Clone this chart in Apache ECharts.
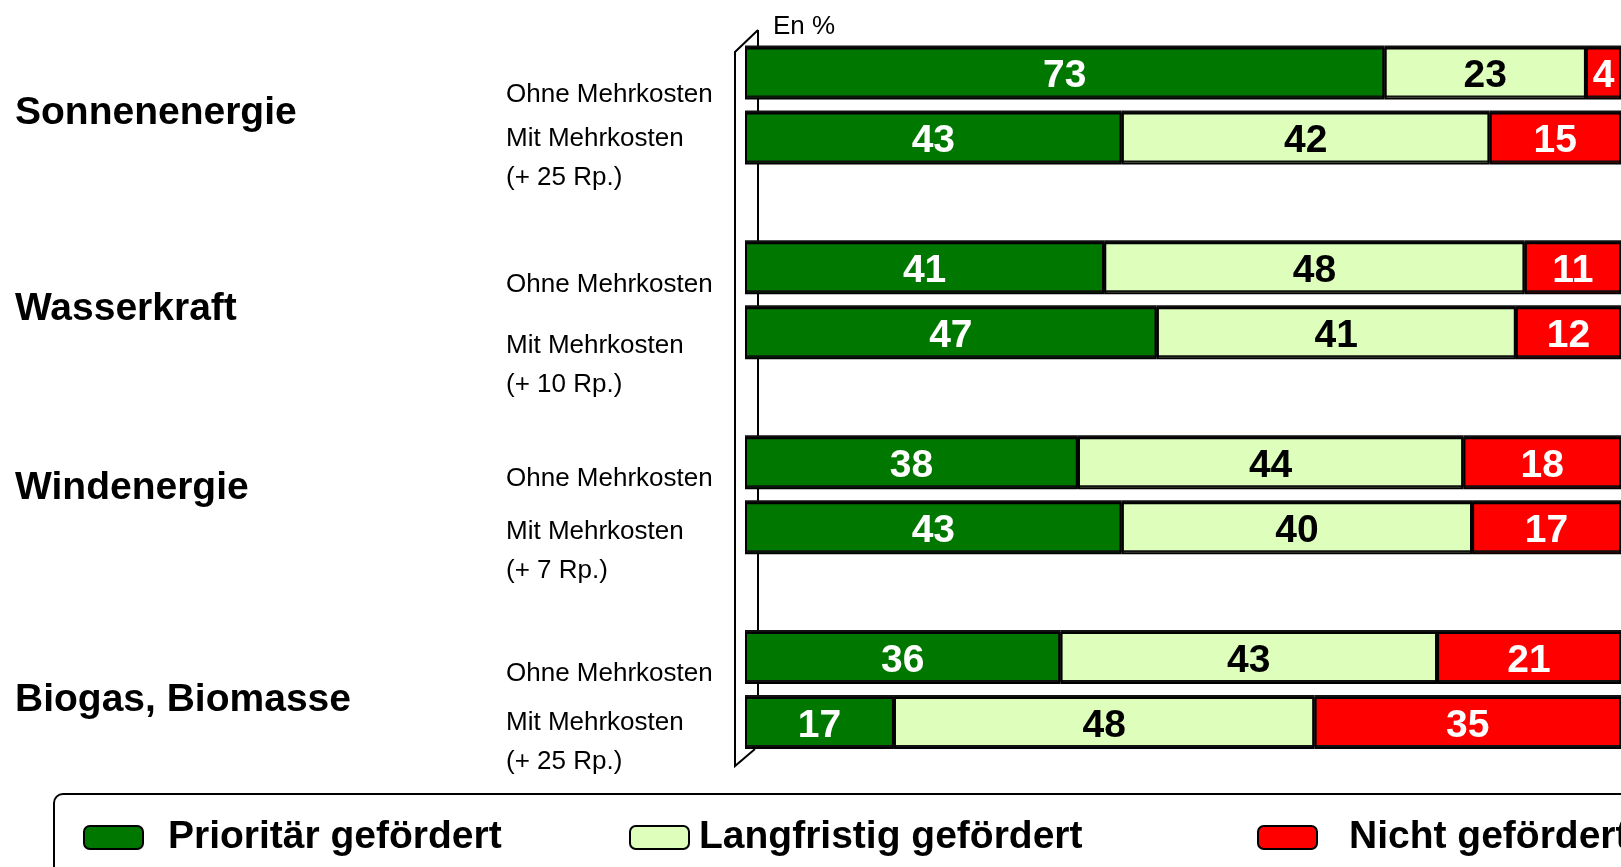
<!DOCTYPE html>
<html><head><meta charset="utf-8">
<script src="https://cdn.jsdelivr.net/npm/echarts@6/dist/echarts.min.js"></script>
<style>html,body{margin:0;padding:0;background:#fff}#c{width:1621px;height:867px}</style>
</head><body><div id="c"></div>
<script>
// ---- data ----
const rowKeys = ['r0','r1','r2','r3','r4','r5','r6','r7','r8','r9','r10'];
const rowLabels = ['Ohne Mehrkosten','Mit Mehrkosten\n(+ 25 Rp.)','',
                   'Ohne Mehrkosten','Mit Mehrkosten\n(+ 10 Rp.)','',
                   'Ohne Mehrkosten','Mit Mehrkosten\n(+ 7 Rp.)','',
                   'Ohne Mehrkosten','Mit Mehrkosten\n(+ 25 Rp.)'];
const groupLabels = ['Sonnenenergie','','','Wasserkraft','','','Windenergie','','','Biogas, Biomasse',''];
const seriesNames = ['Prioritär gefördert','Langfristig gefördert','Nicht gefördert'];
const prioritaer = [73, 43, '-', 41, 47, '-', 38, 43, '-', 36, 17];
const langfristig = [23, 42, '-', 48, 41, '-', 44, 40, '-', 43, 48];
const nicht = [4, 15, '-', 11, 12, '-', 18, 17, '-', 21, 35];
const unitLabel = 'En %';

// ---- styling ----
const NF = "'Liberation Sans', Arial, sans-serif";
const colors = ['#007800', '#DDFFBB', '#FF0000'];
const labelColors = ['#fff', '#000', '#fff'];
// vertical offset (px) of the first text line below the bar centre
const subOffset = {0: 21, 1: 0, 3: 16, 4: 13, 6: 16, 7: 4, 9: 16, 10: 0};
const groupOffset = {0: 40, 3: 41, 6: 25, 9: 42};

const subRich = { t: {fontFamily: NF, fontSize: 26, lineHeight: 39, color: '#000'} };
Object.keys(subOffset).forEach(k => {
  const nLines = rowLabels[k].split('\n').length;
  const S = nLines === 1 ? 2 * subOffset[k] : 2 * subOffset[k] + 39;
  subRich['s' + k] = {fontFamily: NF, fontSize: 2, lineHeight: Math.max(S, 1), color: 'transparent'};
});
const groupRich = { g: {fontFamily: NF, fontSize: 39, fontWeight: 'bold', lineHeight: 50, color: '#000'} };
Object.keys(groupOffset).forEach(k => groupRich['s' + k] = {fontFamily: NF, fontSize: 2, lineHeight: 2 * groupOffset[k], color: 'transparent'});

const chart = echarts.init(document.getElementById('c'), null, {renderer: 'canvas'});
const values = [prioritaer, langfristig, nicht];
const series = seriesNames.map((name, i) => ({
  name, type: 'bar', stack: 'total', barWidth: 52, yAxisIndex: 0,
  data: values[i],
  itemStyle: {color: colors[i], borderColor: '#000', borderWidth: 2, shadowColor: '#111', shadowBlur: 0, shadowOffsetY: -2},
  label: {show: true, position: 'inside', color: labelColors[i], fontFamily: NF, fontSize: 39, fontWeight: 'bold', formatter: '{c}', offset: [0, 3]}
}));

const legendLeft = [83, 629, 1257];
const legendPad = [20, 5, 27];
const legends = seriesNames.map((n, i) => ({
  data: [n], left: legendLeft[i], top: 818, itemWidth: 59, itemHeight: 23, icon: 'roundRect',
  padding: 0, selectedMode: false,
  itemStyle: {shadowBlur: 0, shadowOffsetY: 0, shadowColor: 'transparent'},
  textStyle: {fontFamily: NF, fontSize: 39, fontWeight: 'bold', color: '#000', padding: [20,0,0,legendPad[i]]}
}));

chart.setOption({
  animation: false,
  title: {text: unitLabel, left: 773, top: 14, padding: 0, textStyle: {fontFamily: NF, fontSize: 26, fontWeight: 'normal', color: '#000'}},
  grid: {left: 745, right: -3, top: 41, bottom: 111.5, containLabel: false},
  xAxis: {type: 'value', min: 0, max: 100, show: false, splitLine: {show: false}},
  yAxis: [
    {type: 'category', data: rowKeys, inverse: true, position: 'left',
     axisLine: {show: false}, axisTick: {show: false},
     axisLabel: {interval: 0, align: 'left', margin: 239, formatter: (v, idx) => {
        const t = rowLabels[idx]; if (!t) return '';
        return '{s' + idx + '| }\n' + t.split('\n').map(l => '{t|' + l + '}').join('\n');
     }, rich: subRich}},
    {type: 'category', data: rowKeys, inverse: true, position: 'left', offset: 0,
     axisLine: {show: false}, axisTick: {show: false},
     axisLabel: {interval: 0, align: 'left', margin: 730, formatter: (v, idx) => {
        const t = groupLabels[idx]; if (!t) return '';
        return '{s' + idx + '| }\n{g|' + t + '}';
     }, rich: groupRich}}
  ],
  legend: legends,
  graphic: [
    {type: 'polyline', z: 0, silent: true, shape: {points: [[758,30],[735,52],[735,766],[755,749]]}, style: {stroke: '#000', lineWidth: 2, fill: null}},
    {type: 'line', z: 0, silent: true, shape: {x1: 758, y1: 30, x2: 758, y2: 749}, style: {stroke: '#000', lineWidth: 2}},
    {type: 'rect', z: 0, silent: true, shape: {x: 54, y: 794, width: 1620, height: 120, r: 9}, style: {stroke: '#000', lineWidth: 2, fill: null}}
  ],
  series
});
</script></body></html>
